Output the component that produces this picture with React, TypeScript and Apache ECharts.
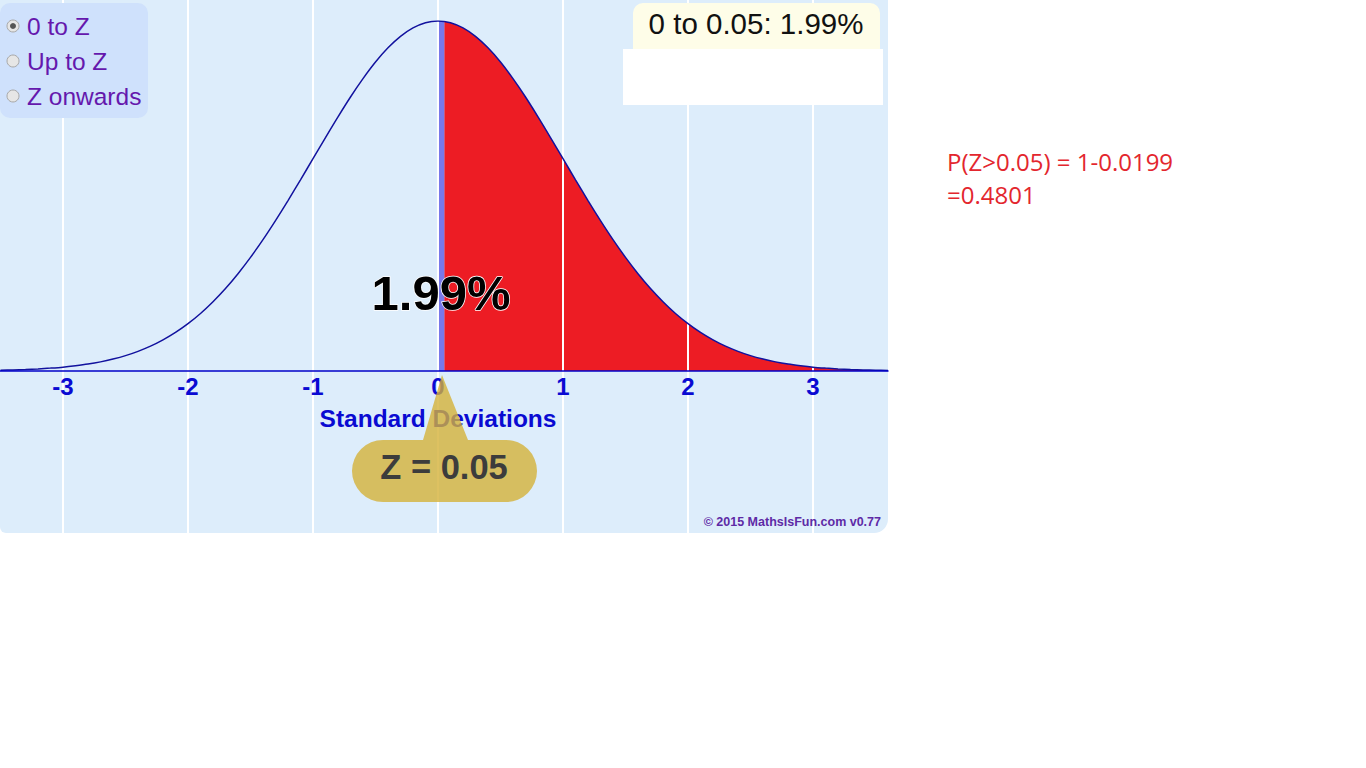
import React, { useEffect, useRef } from "react";
import * as echarts from "echarts";

// Standard deviations (x) and the read-off curve heights (density)
const sdX = [
  -3.5, -3.4, -3.3, -3.2, -3.1, -3.0, -2.9, -2.8, -2.7, -2.6, -2.5, -2.4, -2.3, -2.2, -2.1, -2.0,
  -1.9, -1.8, -1.7, -1.6, -1.5, -1.4, -1.3, -1.2, -1.1, -1.0, -0.9, -0.8, -0.7, -0.6, -0.5, -0.4,
  -0.3, -0.2, -0.1, 0, 0.1, 0.2, 0.3, 0.4, 0.5, 0.6, 0.7, 0.8, 0.9, 1.0, 1.1, 1.2, 1.3, 1.4, 1.5,
  1.6, 1.7, 1.8, 1.9, 2.0, 2.1, 2.2, 2.3, 2.4, 2.5, 2.6, 2.7, 2.8, 2.9, 3.0, 3.1, 3.2, 3.3, 3.4,
  3.5, 3.6,
];
const density = [
  0.0009, 0.0012, 0.0017, 0.0024, 0.0033, 0.0044, 0.006, 0.0079, 0.0104, 0.0136, 0.0175, 0.0224,
  0.0283, 0.0355, 0.044, 0.054, 0.0656, 0.079, 0.094, 0.1109, 0.1295, 0.1497, 0.1714, 0.1942,
  0.2179, 0.242, 0.2661, 0.2897, 0.3123, 0.3332, 0.3521, 0.3683, 0.3814, 0.391, 0.397, 0.3989,
  0.397, 0.391, 0.3814, 0.3683, 0.3521, 0.3332, 0.3123, 0.2897, 0.2661, 0.242, 0.2179, 0.1942,
  0.1714, 0.1497, 0.1295, 0.1109, 0.094, 0.079, 0.0656, 0.054, 0.044, 0.0355, 0.0283, 0.0224,
  0.0175, 0.0136, 0.0104, 0.0079, 0.006, 0.0044, 0.0033, 0.0024, 0.0017, 0.0012, 0.0009, 0.0006,
];
const tickValues = [-3, -2, -1, 0, 1, 2, 3];
const zValue = 0.05;
const zDensity = 0.3984;
const percentText = "1.99%";
const headerText = "0 to 0.05: 1.99%";
const radioOptions = ["0 to Z", "Up to Z", "Z onwards"];
const calloutText = "Z = 0.05";
const axisTitle = "Standard Deviations";
const copyrightText = "© 2015 MathsIsFun.com v0.77";
const noteLines = ["P(Z>0.05) = 1-0.0199", "=0.4801"];

const ARIAL = "'Liberation Sans', Arial, sans-serif";

let registered = false;
function registerCallout() {
  if (registered) return;
  registered = true;
  const d =
    "M 383 440 L 423 440 L 442 375 L 468 440 L 506 440 A 31 31 0 0 1 506 502 L 383 502 A 31 31 0 0 1 383 440 Z";
  echarts.graphic.registerShape("callout", echarts.graphic.extendPath(d, {}) as any);
}

export default function App() {
  const ref = useRef<HTMLDivElement>(null);

  useEffect(() => {
    registerCallout();
    const chart = echarts.init(ref.current!, null, { renderer: "svg" });
    const curve = sdX.map((x, i) => [x, density[i]]);
    const tail = [[zValue, zDensity], ...curve.filter((p) => p[0] > zValue)];
    const strip = [
      [0, density[sdX.indexOf(0)]],
      [zValue, zDensity],
    ];
    const xMin = -3.504;
    const xMax = 3.6;

    const graphic: any[] = [
      {
        type: "rect",
        z: -10,
        silent: true,
        shape: { x: 0, y: 0, width: 888, height: 533, r: [0, 0, 14, 6] },
        style: { fill: "#ddedfb" },
      },
      // option panel
      {
        type: "rect",
        z: 50,
        shape: { x: 0, y: 3, width: 148, height: 115, r: 10 },
        style: { fill: "#cfe1fc" },
      },
      ...radioOptions.flatMap((label, i) => {
        const cy = 26 + i * 35;
        const items: any[] = [
          {
            type: "circle",
            z: 51,
            shape: { cx: 13, cy, r: 6 },
            style: { fill: "#e6e6e6", stroke: "#a8a8a8", lineWidth: 1 },
          },
          {
            type: "text",
            z: 51,
            x: 27,
            y: cy,
            style: {
              text: label,
              fill: "#6518ad",
              font: `24.5px ${ARIAL}`,
              verticalAlign: "middle",
              align: "left",
            },
          },
        ];
        if (i === 0) {
          items.push({
            type: "circle",
            z: 52,
            shape: { cx: 13, cy, r: 3 },
            style: { fill: "#555555" },
          });
        }
        return items;
      }),
      // header boxes
      {
        type: "rect",
        z: 50,
        shape: { x: 633, y: 3, width: 247, height: 46, r: [10, 10, 0, 0] },
        style: { fill: "#fefde8" },
      },
      {
        type: "rect",
        z: 50,
        shape: { x: 623, y: 49, width: 260, height: 56 },
        style: { fill: "#ffffff" },
      },
      {
        type: "text",
        z: 51,
        x: 756,
        y: 23,
        style: {
          text: headerText,
          fill: "#111111",
          font: `29.5px ${ARIAL}`,
          align: "center",
          verticalAlign: "middle",
        },
      },
      // big percentage
      {
        type: "text",
        z: 60,
        x: 441,
        y: 293,
        style: {
          text: percentText,
          fill: "#000000",
          font: `bold 49px ${ARIAL}`,
          align: "center",
          verticalAlign: "middle",
          stroke: "#ffffff",
          lineWidth: 1.5,
        },
      },
      // callout
      {
        type: "callout",
        z: 70,
        x: 0,
        y: 0,
        style: { fill: "#d4b23a", opacity: 0.8 },
      },
      {
        type: "text",
        z: 71,
        x: 444,
        y: 467,
        style: {
          text: calloutText,
          fill: "#3c3c3c",
          font: `bold 34.5px ${ARIAL}`,
          align: "center",
          verticalAlign: "middle",
        },
      },
      {
        type: "text",
        z: 60,
        x: 881,
        y: 522,
        style: {
          text: copyrightText,
          fill: "#5e2aa6",
          font: `bold 12.5px ${ARIAL}`,
          align: "right",
          verticalAlign: "middle",
        },
      },
      ...noteLines.map((t, i) => ({
        type: "text",
        z: 60,
        x: 947,
        y: 161.5 + i * 33,
        style: {
          text: t,
          fill: "#e3262e",
          font: `24px 'Open Sans', sans-serif`,
          align: "left",
          verticalAlign: "middle",
        },
      })),
    ];

    chart.setOption({
      animation: false,
      grid: [
        { left: 0, top: 21, width: 888, height: 350 },
        { left: 0, top: 0, width: 888, height: 533 },
      ],
      xAxis: [
        {
          type: "value",
          gridIndex: 0,
          min: xMin,
          max: xMax,
          z: 10,
          splitLine: { show: false },
          axisTick: { show: false },
          axisLine: { show: true, onZero: false, lineStyle: { color: "#0000c8", width: 1.5 } },
          axisLabel: {
            customValues: tickValues,
            color: "#0a0ad2",
            fontWeight: "bold",
            fontSize: 24,
            fontFamily: ARIAL,
            margin: 3,
          },
          name: axisTitle,
          nameLocation: "middle",
          nameGap: 35,
          nameTextStyle: {
            color: "#0a0ad2",
            fontWeight: "bold",
            fontSize: 24.5,
            fontFamily: ARIAL,
            padding: [0, 12, 0, 0],
          },
        },
        {
          type: "value",
          gridIndex: 1,
          min: xMin,
          max: xMax,
          show: false,
        },
      ],
      yAxis: [
        { type: "value", gridIndex: 0, min: 0, max: 0.3989, show: false },
        { type: "value", gridIndex: 1, min: 0, max: 1, show: false },
      ],
      graphic,
      series: [
        {
          type: "line",
          xAxisIndex: 0,
          yAxisIndex: 0,
          data: tail,
          smooth: 0.3,
          showSymbol: false,
          lineStyle: { width: 0 },
          areaStyle: { color: "#ed1c24", opacity: 1 },
          z: 2,
          silent: true,
        },
        {
          type: "line",
          xAxisIndex: 1,
          yAxisIndex: 1,
          data: [[0, 0]],
          showSymbol: false,
          lineStyle: { opacity: 0 },
          z: 3,
          silent: true,
          markLine: {
            silent: true,
            symbol: ["none", "none"],
            label: { show: false },
            lineStyle: { color: "#ffffff", width: 2, type: "solid", opacity: 1 },
            data: tickValues.map((v) => ({ xAxis: v })),
          },
        },
        {
          type: "line",
          xAxisIndex: 0,
          yAxisIndex: 0,
          data: strip,
          showSymbol: false,
          lineStyle: { width: 0 },
          areaStyle: { color: "#7878ea", opacity: 1 },
          z: 4,
          silent: true,
        },
        {
          type: "line",
          xAxisIndex: 0,
          yAxisIndex: 0,
          data: curve,
          smooth: 0.3,
          showSymbol: false,
          lineStyle: { color: "#12129e", width: 1.5 },
          z: 5,
          silent: true,
        },
      ],
    });

    return () => chart.dispose();
  }, []);

  return (
    <div
      ref={ref}
      style={{ position: "fixed", left: 0, top: 0, width: 1366, height: 768, background: "#ffffff" }}
    />
  );
}
